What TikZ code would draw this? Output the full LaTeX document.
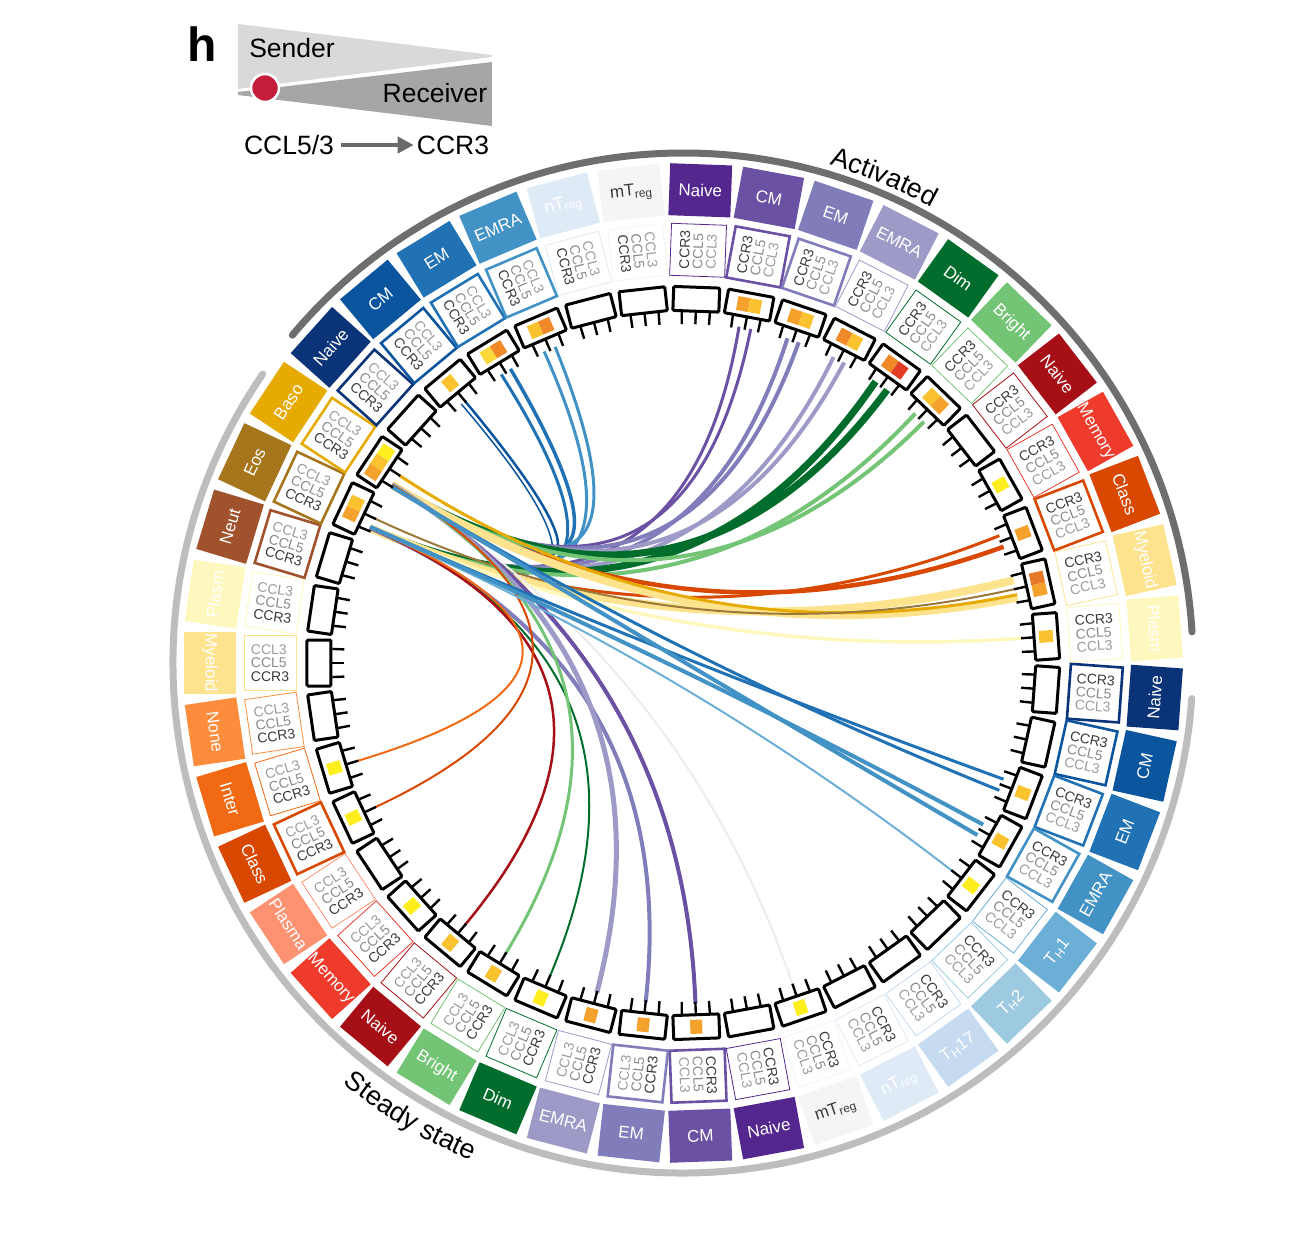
\documentclass[tikz,border=0pt]{standalone}
\usepackage{fontspec}
\setmainfont{Liberation Sans}
\usetikzlibrary{arrows.meta,decorations.text}
% label colours
\definecolor{bNaive}{HTML}{0B3478}
\definecolor{bCM}{HTML}{0B559F}
\definecolor{bEM}{HTML}{2171B5}
\definecolor{bEMRA}{HTML}{4292C6}
\definecolor{bTHa}{HTML}{6BAED6}
\definecolor{bTHb}{HTML}{9ECAE1}
\definecolor{bTHc}{HTML}{C6DBEF}
\definecolor{bnT}{HTML}{DEEBF7}
\definecolor{bmT}{HTML}{F5F5F5}
\definecolor{pNaive}{HTML}{54278F}
\definecolor{pCM}{HTML}{6A51A3}
\definecolor{pEM}{HTML}{807DBA}
\definecolor{pEMRA}{HTML}{9E9AC8}
\definecolor{gDim}{HTML}{006D2C}
\definecolor{gBright}{HTML}{74C476}
\definecolor{rNaive}{HTML}{A50F15}
\definecolor{rMem}{HTML}{EF3B2C}
\definecolor{rPlasma}{HTML}{FC9272}
\definecolor{oClass}{HTML}{D94801}
\definecolor{oInter}{HTML}{F16913}
\definecolor{oNone}{HTML}{FD8D3C}
\definecolor{yMye}{HTML}{FEE38E}
\definecolor{yPla}{HTML}{FFF8BE}
\definecolor{nNeut}{HTML}{A0522D}
\definecolor{nEos}{HTML}{A6761D}
\definecolor{nBaso}{HTML}{E6AB02}
% squares
\definecolor{sqY}{HTML}{FFEE1E}
\definecolor{sqY2}{HTML}{FCD93A}
\definecolor{sqG}{HTML}{F9C22E}
\definecolor{sqO2}{HTML}{F5A22C}
\definecolor{sqO}{HTML}{F08A28}
\definecolor{sqDO}{HTML}{E8782A}
\definecolor{sqR}{HTML}{E33D26}
% texts and arcs
\definecolor{tDark}{HTML}{3A3A3A}
\definecolor{tMid}{HTML}{8A8A8A}
\definecolor{tLight}{HTML}{9C9C9C}
\definecolor{arcAct}{HTML}{6E6E6E}
\definecolor{arcSt}{HTML}{BDBDBD}
\definecolor{wLight}{HTML}{D9D9D9}
\definecolor{wDark}{HTML}{A6A6A6}
\definecolor{dotRed}{HTML}{C41E3A}
\definecolor{arrGray}{HTML}{6A6A6A}
\definecolor{faint}{HTML}{ECECEC}
\newcommand\txtL{{\color{tLight}CCL3}\\{\color{tMid}CCL5}\\{\color{tDark}CCR3}}
\newcommand\txtR{{\color{tDark}CCR3}\\{\color{tMid}CCL5}\\{\color{tLight}CCL3}}
\begin{document}
\begin{tikzpicture}[x=1pt,y=1pt,
 labbox/.style={minimum width=62pt, minimum height=52pt, inner sep=0pt, font=\fontsize{17}{17}\selectfont},
 innerbox/.style={minimum width=52pt, minimum height=55pt, inner sep=0pt, align=left, font=\fontsize{14}{13.4}\selectfont, fill=white},
 segbox/.style={draw=black, line width=3pt, minimum width=46pt, minimum height=24pt, inner sep=0pt, rounded corners=1.2pt, fill=white},
 sqbox/.style={minimum width=12pt, minimum height=14pt, inner sep=0pt},
 tickmark/.style={line width=2.4pt, black},
 chord/.style={line cap=butt},
 legtext/.style={font=\fontsize{26.5}{26.5}\selectfont, inner sep=0pt}
]
\useasboundingbox (-683,-585) rectangle (627,663);

% ---------- outer arcs ----------
\draw[line width=7pt, arcAct, line cap=round] (3.5:510) arc[start angle=3.5, end angle=140, radius=510];
\draw[line width=7pt, arcSt, line cap=round] (145.5:510) arc[start angle=145.5, end angle=356, radius=510];
\path[decorate, decoration={text along path, text align=center, text={|\fontsize{27}{27}\selectfont|Activated}}]
  (95:519) arc[start angle=95, end angle=40, radius=519];
\path[decorate, decoration={text along path, text align=center, text={|\fontsize{27}{27}\selectfont|Steady state}}]
  (205:541) arc[start angle=205, end angle=273, radius=541];

% ---------- chords ----------
\foreach \s/\so/\r/\ro/\c/\w [count=\n] in {
 27/0/25/2/bCM/2.5, 27/0.8/24/1.8/bCM/1.5,
 28/-1/25/2/bEM/3.5, 28/0.8/24/1.8/bEM/3,
 29/-1/25/2/bEMRA/3, 29/1/24/1.8/bEMRA/3,
 33/-1/25/2/pCM/3, 33/1/24/1.8/pCM/3,
 34/-1/25/2/pEM/4, 34/1/24/1.8/pEM/4,
 35/-1/25/2/pEMRA/4, 35/1/24/1.8/pEMRA/4,
 36/-1.2/25/2/gDim/7, 36/1.2/24/1.8/gDim/7,
 37/-1/25/2/gBright/4, 37/1/24/1.8/gBright/4,
 40/-1/25/2/oClass/4.5, 40/1/24/1.8/oClass/3,
 41/-1.5/25/2/yMye/8, 41/1.5/24/1.8/yMye/8,
 42/0/24/1.8/yPla/3.5,
 25/0/41/-1/nBaso/3, 24/0/41/0/nEos!70!gray/2,
 8/0/25/2/faint/2,
 10/0/25/2/pCM/4, 11/0/24/1.8/pEM/4, 12/0/25/2/pEMRA/5,
 13/0/24/1.8/gDim/2, 14/0/25/2/gBright/3, 15/0/24/1.8/rNaive/2.5,
 18/0/25/2/oClass/2, 19/0/24/1.8/oInter/2,
 4/0/24/1.8/bTHa/2,
 2/-1/25/2.3/bEM/3, 2/1/24/1.6/bEM/3,
 3/-1/25/2.3/bEMRA/4, 3/1/24/1.6/bEMRA/4}
{
 \pgfmathsetmacro\as{360-(\s+0.5)*360/43+\so}
 \pgfmathsetmacro\ar{360-(\r+0.5)*360/43+\ro}
 \coordinate (cs\n) at (\as:341);
 \coordinate (cr\n) at (\ar:341);
 \draw[chord, draw=\c, line width=\w pt] (cs\n) .. controls (\as:90) and (\ar:140) .. (cr\n);
}

% ---------- segments, boxes, labels ----------
\foreach \i/\col/\lab/\tc/\bw in {
 0/bNaive/Naive/white/2.6, 1/bCM/CM/white/2.6, 2/bEM/EM/white/2.6, 3/bEMRA/EMRA/white/2.6,
 4/bTHa/{T\textsubscript{H}1}/white/0.8, 5/bTHb/{T\textsubscript{H}2}/white/0.8,
 6/bTHc/{T\textsubscript{H}17}/white/0.8, 7/bnT/{nT\textsubscript{reg}}/white/0.8,
 8/bmT/{mT\textsubscript{reg}}/tDark/0.8,
 9/pNaive/Naive/white/0.8, 10/pCM/CM/white/2.6, 11/pEM/EM/white/2.6, 12/pEMRA/EMRA/white/0.8,
 13/gDim/Dim/white/0.8, 14/gBright/Bright/white/0.8,
 15/rNaive/Naive/white/0.8, 16/rMem/Memory/white/0.8, 17/rPlasma/Plasma/white/0.8,
 18/oClass/Class/white/2.6, 19/oInter/Inter/white/0.8, 20/oNone/None/white/0.8,
 21/yMye/Myeloid/white/0.8, 22/yPla/Plasm/white/0.8,
 23/nNeut/Neut/white/2.6, 24/nEos/Eos/white/2.6, 25/nBaso/Baso/white/2.6,
 26/bNaive/Naive/white/2.6, 27/bCM/CM/white/2.6, 28/bEM/EM/white/2.6, 29/bEMRA/EMRA/white/2.6,
 30/bnT/{nT\textsubscript{reg}}/white/0.8, 31/bmT/{mT\textsubscript{reg}}/tDark/0.8,
 32/pNaive/Naive/white/0.8, 33/pCM/CM/white/2.6, 34/pEM/EM/white/2.6, 35/pEMRA/EMRA/white/0.8,
 36/gDim/Dim/white/0.8, 37/gBright/Bright/white/0.8,
 38/rNaive/Naive/white/0.8, 39/rMem/Memory/white/0.8, 40/oClass/Class/white/2.6,
 41/yMye/Myeloid/white/0.8, 42/yPla/Plasm/white/0.8}
{
 \pgfmathsetmacro\a{360-(\i+0.5)*360/43}
 \pgfmathsetmacro\rot{\a<179 ? \a-90 : \a+90}
 \pgfmathtruncatemacro\isleft{(\a>90)&&(\a<270) ? 1 : 0}
 \node[labbox, fill=\col, text=\tc, rotate=\rot] (lab\i) at (\a:473) {\lab};
 \ifnum\isleft=1
  \pgfmathsetmacro\irot{\a-180}
  \node[innerbox, draw=\col, line width=\bw pt, rotate=\irot] (inn\i) at (\a:413) {\txtL};
 \else
  \node[innerbox, draw=\col, line width=\bw pt, rotate=\a] (inn\i) at (\a:413) {\txtR};
 \fi
 \node[segbox, rotate=\rot] (seg\i) at (\a:364) {};
 \foreach \d in {-2.3,0,2.3} {
  \pgfmathsetmacro\ta{\a+\d}
  \draw[tickmark] (\ta:339) -- (\ta:351);
 }
}

% ---------- coloured squares in the segments ----------
\foreach \i/\cl in {2/{sqG}, 3/{sqG}, 4/{sqY}, 8/{sqY}, 10/{sqO2}, 11/{sqO2}, 12/{sqO2},
 13/{sqY}, 14/{sqG}, 15/{sqG}, 16/{sqY}, 18/{sqY}, 19/{sqY},
 24/{sqO2,sqG}, 25/{sqO2,sqG,sqY}, 27/{sqG}, 28/{sqY2,sqO}, 29/{sqG,sqO},
 33/{sqO2,sqG}, 34/{sqO2,sqG}, 35/{sqO,sqG}, 36/{sqO,sqR}, 37/{sqG,sqO2},
 39/{sqY}, 40/{sqO2}, 41/{sqDO,sqO2}, 42/{sqG}}
{
 \pgfmathsetmacro\a{360-(\i+0.5)*360/43}
 \pgfmathsetmacro\rot{\a<179 ? \a-90 : \a+90}
 \foreach \c [count=\k] in \cl {\xdef\nsq{\k}}
 \foreach \c [count=\k] in \cl {
  \pgfmathsetmacro\aa{\a-(\k-(\nsq+1)/2)*1.9}
  \node[sqbox, fill=\c, rotate=\rot] (sq\i-\k) at (\aa:364) {};
 }
}

% ---------- legend (image coordinates) ----------
\begin{scope}[shift={(-683,663)}, yscale=-1]
 \node[font=\fontsize{48}{48}\selectfont\bfseries, inner sep=0pt] (hlab) at (202,44) {h};
 \fill[wLight] (238,24) -- (492,55) -- (492,57) -- (238,89) -- cycle;
 \fill[wDark] (238,92) -- (492,62) -- (492,126) -- (238,95) -- cycle;
 \node[circle, fill=dotRed, draw=white, line width=2.5pt, minimum size=28pt, inner sep=0pt] (dot) at (265,88) {};
 \node[legtext] (sender) at (292,48) {Sender};
 \node[legtext] (receiver) at (435,93) {Receiver};
 \node[legtext] (ccl) at (289,145) {CCL5/3};
 \node[legtext] (ccr) at (453,145) {CCR3};
 \draw[-{Triangle[length=16pt,width=16pt]}, line width=4.5pt, arrGray, shorten <=7pt, shorten >=3pt] (ccl.east) -- (ccr.west);
\end{scope}
\end{tikzpicture}
\end{document}
